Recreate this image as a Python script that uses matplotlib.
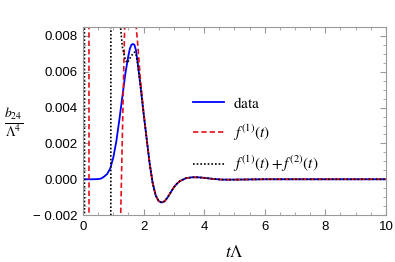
import matplotlib
matplotlib.use('Agg')
import matplotlib.pyplot as plt
from matplotlib.ticker import MultipleLocator, FixedLocator

plt.rcParams['font.family'] = ['Liberation Sans', 'DejaVu Sans']
plt.rcParams['mathtext.fontset'] = 'stix'

# 数据
data_t = [0.0, 0.3, 0.5, 0.6, 0.7, 0.8, 0.9, 1.0, 1.1, 1.2, 1.3, 1.4, 1.5, 1.55,
          1.6, 1.65, 1.7, 1.75, 1.8, 1.9, 2.0, 2.1, 2.2, 2.3, 2.4, 2.5, 2.6, 2.7,
          2.8, 2.9, 3.0, 3.1, 3.2, 3.4, 3.6, 3.8, 4.0, 4.3, 4.6, 5.0, 6.0, 8.0, 10.0]
data_y = [0.0, 0.0, 0.00001, 0.00004, 0.00015, 0.0003, 0.0006, 0.0012, 0.0021,
          0.0033, 0.0046, 0.0059, 0.0069, 0.0073, 0.0075, 0.00755, 0.0075, 0.0072,
          0.0066, 0.0052, 0.0037, 0.0023, 0.0009, -0.0002, -0.0009, -0.00122,
          -0.0013, -0.00122, -0.001, -0.00072, -0.00045, -0.00025, -0.0001,
          0.00006, 0.00011, 0.00011, 0.00008, 0.00002, -0.00002, -0.00002, 0.0,
          0.0, 0.0]

f1_t = [0.0, 0.19, 0.21, 1.22, 1.24, 1.38, 1.45, 1.6, 1.74, 1.8, 1.85, 1.9, 2.0,
        2.1, 2.2, 2.3, 2.4, 2.5, 2.6, 2.7, 2.8, 2.9, 3.0, 3.1, 3.2, 3.4, 3.6,
        3.8, 4.0, 4.3, 4.6, 5.0, 6.0, 8.0, 10.0]
f1_y = [0.05, 0.05, -0.05, -0.05, -0.0025, 0.0088, 0.011, 0.012, 0.0088, 0.0077,
        0.0066, 0.0055, 0.0038, 0.0023, 0.0009, -0.0002, -0.0009, -0.00122,
        -0.0013, -0.00122, -0.001, -0.00072, -0.00045, -0.00025, -0.0001,
        0.00006, 0.00011, 0.00011, 0.00008, 0.00002, -0.00002, -0.00002, 0.0,
        0.0, 0.0]

f12_t = [0.0, 0.04, 0.06, 0.91, 0.93, 1.2, 1.24, 1.3, 1.38, 1.45, 1.5, 1.6, 1.7,
         1.75, 1.8, 1.9, 2.0, 2.1, 2.2, 2.3, 2.4, 2.5, 2.6, 2.7, 2.8, 2.9, 3.0,
         3.1, 3.2, 3.4, 3.6, 3.8, 4.0, 4.3, 4.6, 5.0, 6.0, 8.0, 10.0]
f12_y = [0.05, 0.05, -0.05, -0.05, 0.05, 0.012, 0.0085, 0.0074, 0.0068, 0.0065,
         0.0066, 0.0069, 0.0071, 0.007, 0.0065, 0.0052, 0.0037, 0.0023, 0.0009,
         -0.0002, -0.0009, -0.00122, -0.0013, -0.00122, -0.001, -0.00072,
         -0.00045, -0.00025, -0.0001, 0.00006, 0.00011, 0.00011, 0.00008,
         0.00002, -0.00002, -0.00002, 0.0, 0.0, 0.0]

x_ticks = [0, 2, 4, 6, 8, 10]
y_ticks = [-0.002, 0.0, 0.002, 0.004, 0.006, 0.008]
y_labels = ['\u2212 0.002', '0.000', '0.002', '0.004', '0.006', '0.008']

fig = plt.figure(figsize=(3.95, 2.62), dpi=100)
ax = fig.add_axes([0.210, 0.179, 0.767, 0.718])

ax.plot(data_t, data_y, color='#0000ff', linewidth=1.3, label=r'$\mathrm{data}$')
ax.plot(f1_t, f1_y, color='#e8101a', linewidth=1.2, linestyle=(0, (3.2, 1.8)),
        label=r'$f^{(1)}(t)$')
ax.plot(f12_t, f12_y, color='black', linewidth=1.2, linestyle=(0, (1, 1.2)),
        label=r'$f^{(1)}(t) + f^{(2)}(t)$')

ax.set_xlim(0, 10)
ax.set_ylim(-0.002, 0.0085)
ax.xaxis.set_major_locator(FixedLocator(x_ticks))
ax.xaxis.set_minor_locator(MultipleLocator(0.5))
ax.yaxis.set_major_locator(FixedLocator(y_ticks))
ax.set_yticklabels(y_labels)
ax.yaxis.set_minor_locator(MultipleLocator(0.0005))
ax.tick_params(which='both', direction='in', top=True, right=True,
               color='#999999', labelsize=9.5, pad=4)
ax.tick_params(which='major', length=4, width=0.8)
ax.tick_params(which='minor', length=2, width=0.6)
for sp in ax.spines.values():
    sp.set_color('#999999')
    sp.set_linewidth(0.8)

ax.set_xlabel(r'$t\Lambda$', fontsize=12.5, labelpad=8)
fig.text(0.033, 0.535, r'$\frac{b_{24}}{\Lambda^4}$', fontsize=14,
         ha='center', va='center')

ax.legend(loc='upper left', bbox_to_anchor=(0.338, 0.675), frameon=False,
          fontsize=11, handlelength=2.0, handletextpad=0.6, labelspacing=0.75,
          borderpad=0)

fig.savefig('out.png', dpi=100)
